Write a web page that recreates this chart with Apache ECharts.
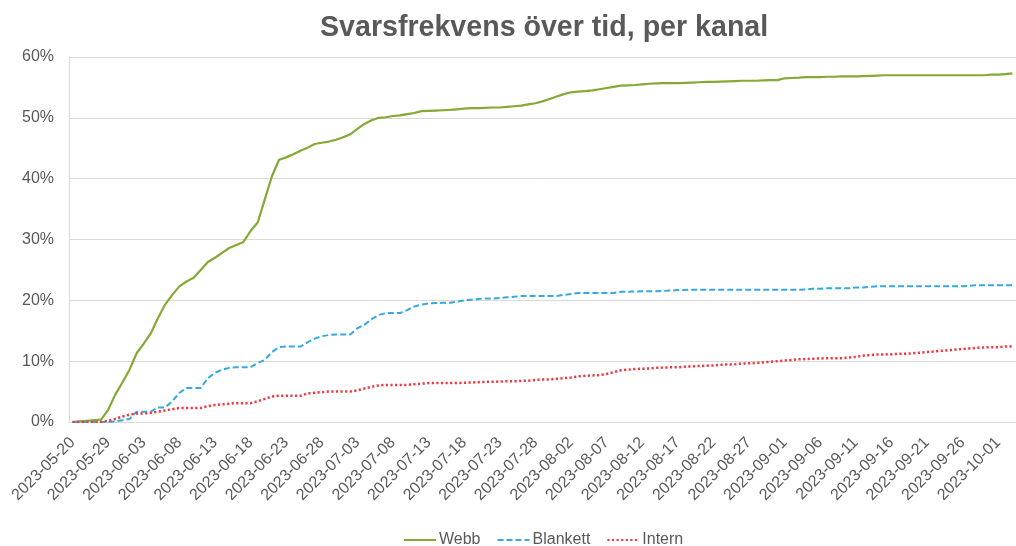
<!DOCTYPE html>
<html>
<head>
<meta charset="utf-8">
<script src="https://cdn.jsdelivr.net/npm/echarts@6/dist/echarts.min.js"></script>
<style>
html,body{margin:0;padding:0;background:#fff;}
#chart{width:1016px;height:546px;}
</style>
</head>
<body>
<div id="chart"></div>
<script>
// ---- Data ----
const titleText = "Svarsfrekvens över tid, per kanal";
const seriesNames = ["Webb", "Blankett", "Intern"];
// first dates (irregular), then daily from 2023-05-29 to 2023-10-03
const firstDates = ["2023-05-20", "2023-05-25", "2023-05-26", "2023-05-27", "2023-05-28"];
const dailyStart = "2023-05-29";
const dailyEnd = "2023-10-03";

const webb = [0,0.1,0.2,0.3,0.4,2.0,4.5,6.5,8.6,11.3,
12.9,14.6,17.1,19.3,20.9,22.3,23.1,23.7,25.0,26.3,
27.0,27.8,28.6,29.1,29.6,31.4,32.8,36.6,40.4,43.1,
43.5,44.0,44.6,45.1,45.7,45.9,46.1,46.4,46.8,47.3,
48.2,49.0,49.6,50.0,50.1,50.3,50.4,50.6,50.8,51.1,
51.15,51.2,51.25,51.3,51.4,51.5,51.6,51.6,51.65,51.7,
51.7,51.8,51.9,52.0,52.2,52.4,52.7,53.1,53.5,53.9,
54.2,54.3,54.4,54.5,54.7,54.9,55.1,55.3,55.35,55.4,
55.5,55.6,55.65,55.7,55.7,55.7,55.75,55.8,55.85,55.9,
55.9,55.95,56.0,56.05,56.1,56.1,56.1,56.15,56.2,56.2,
56.5,56.55,56.6,56.7,56.7,56.7,56.75,56.75,56.8,56.8,
56.8,56.85,56.9,56.95,57.0,57.0,57.0,57.0,57.0,57.0,
57.0,57.0,57.0,57.0,57.0,57.0,57.0,57.0,57.0,57.1,
57.1,57.2,57.3];

const blankett = [0,0,0,0,0,0,0.1,0.3,0.5,1.7,
1.7,1.7,2.4,2.4,3.4,4.8,5.6,5.6,5.6,7.2,
8.1,8.6,8.9,9.0,9.0,9.0,9.7,10.2,11.5,12.3,
12.4,12.4,12.4,13.1,13.7,14.1,14.3,14.4,14.4,14.4,
15.4,16.0,16.9,17.6,17.9,17.9,17.9,18.4,19.0,19.3,
19.5,19.55,19.6,19.6,19.8,20.0,20.1,20.2,20.3,20.3,
20.4,20.5,20.6,20.7,20.7,20.7,20.7,20.7,20.7,20.9,
21.05,21.2,21.2,21.2,21.2,21.2,21.2,21.4,21.4,21.45,
21.5,21.5,21.5,21.55,21.6,21.7,21.7,21.75,21.75,21.75,
21.75,21.75,21.75,21.75,21.75,21.75,21.75,21.75,21.75,21.75,
21.75,21.75,21.75,21.8,21.9,21.9,22.0,22.0,22.0,22.0,
22.1,22.1,22.2,22.3,22.3,22.3,22.3,22.3,22.3,22.3,
22.3,22.3,22.3,22.3,22.3,22.3,22.4,22.5,22.5,22.5,
22.5,22.5,22.5];

const intern = [0,0,0,0,0,0.2,0.5,0.9,1.2,1.4,
1.4,1.5,1.7,1.9,2.1,2.3,2.3,2.3,2.3,2.6,
2.8,2.9,3.0,3.1,3.1,3.1,3.4,3.8,4.2,4.3,
4.3,4.3,4.3,4.7,4.8,4.9,5.0,5.0,5.0,5.0,
5.2,5.5,5.8,6.0,6.1,6.1,6.1,6.1,6.2,6.3,
6.4,6.4,6.4,6.4,6.4,6.45,6.5,6.55,6.6,6.6,
6.65,6.7,6.7,6.75,6.8,6.9,7.0,7.0,7.1,7.2,
7.3,7.5,7.6,7.65,7.7,7.9,8.2,8.5,8.6,8.7,
8.75,8.8,8.9,8.95,9.0,9.0,9.1,9.15,9.2,9.25,
9.3,9.4,9.45,9.5,9.6,9.65,9.7,9.8,9.9,10.0,
10.1,10.2,10.3,10.35,10.4,10.45,10.5,10.5,10.5,10.6,
10.7,10.9,11.0,11.1,11.1,11.15,11.2,11.2,11.3,11.4,
11.5,11.6,11.7,11.8,11.9,12.0,12.1,12.2,12.25,12.3,
12.3,12.4,12.4];

const yTicks = [0, 10, 20, 30, 40, 50, 60];

// ---- Build category list ----
function buildDates() {
  const out = firstDates.slice();
  const d = new Date(dailyStart + "T00:00:00Z");
  const end = new Date(dailyEnd + "T00:00:00Z");
  while (d <= end) {
    out.push(d.toISOString().slice(0, 10));
    d.setUTCDate(d.getUTCDate() + 1);
  }
  return out;
}
const categories = buildDates();

const FONT = "'Liberation Sans', Arial, sans-serif";
const TXT = "#595959";
const colors = ["#84A934", "#35A9E1", "#F2383F"];

const chart = echarts.init(document.getElementById('chart'), null, {renderer: 'canvas'});
chart.setOption({
  animation: false,
  backgroundColor: '#fff',
  textStyle: {fontFamily: FONT},
  title: {
    text: titleText,
    left: 315,
    top: 9,
    textStyle: {fontFamily: FONT, fontSize: 28.6, fontWeight: 'bold', color: TXT}
  },
  legend: {
    data: seriesNames,
    left: 398,
    top: 527,
    itemWidth: 32,
    itemHeight: 10,
    itemGap: 16,
    itemStyle: {opacity: 0},
    textStyle: {fontFamily: FONT, fontSize: 16, color: TXT, padding: [0,0,0,-2]}
  },
  grid: {left: 69, right: -3, top: 57, bottom: 124, containLabel: false},
  xAxis: {
    type: 'category',
    data: categories,
    boundaryGap: true,
    axisLine: {lineStyle: {color: '#D9D9D9', width: 1}},
    axisTick: {show: false},
    axisLabel: {
      interval: 4,
      rotate: 45,
      color: TXT,
      fontFamily: FONT,
      fontSize: 16,
      margin: 18
    }
  },
  yAxis: {
    type: 'value',
    min: yTicks[0],
    max: yTicks[yTicks.length - 1],
    interval: 10,
    axisLine: {show: true, lineStyle: {color: '#D9D9D9', width: 1}},
    axisTick: {show: false},
    splitLine: {lineStyle: {color: '#D9D9D9', width: 1}},
    axisLabel: {formatter: '{value}%', color: TXT, fontFamily: FONT, fontSize: 16, margin: 15}
  },
  series: [
    {name: seriesNames[0], type: 'line', data: webb, symbol: 'none', color: colors[0],
     lineStyle: {color: colors[0], width: 2.2}},
    {name: seriesNames[1], type: 'line', data: blankett, symbol: 'none', color: colors[1],
     lineStyle: {color: colors[1], width: 2, type: [6, 3]}},
    {name: seriesNames[2], type: 'line', data: intern, symbol: 'none', color: colors[2],
     lineStyle: {color: colors[2], width: 2.5, type: [2.2, 2.4]}}
  ]
});
</script>
</body>
</html>
